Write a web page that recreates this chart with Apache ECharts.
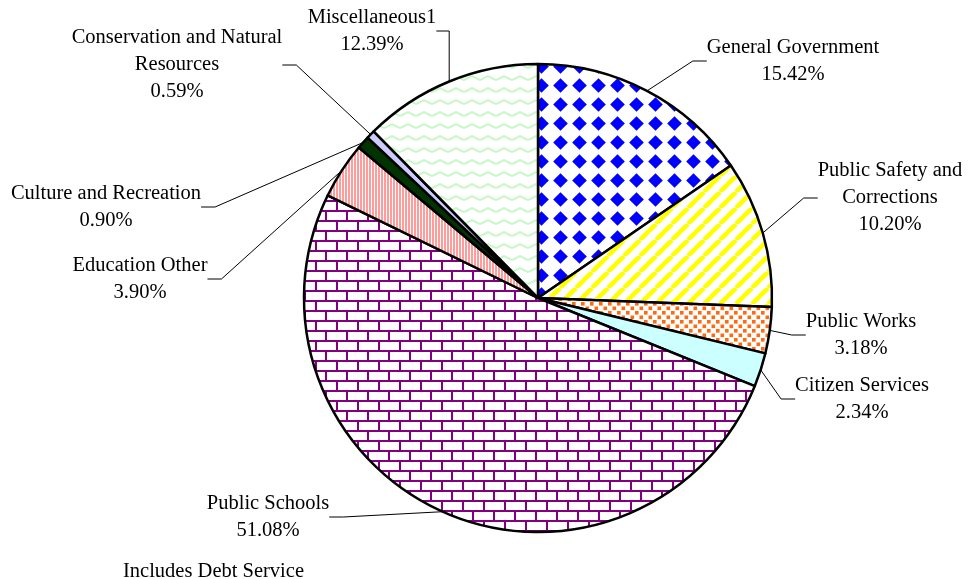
<!DOCTYPE html>
<html>
<head>
<meta charset="utf-8">
<script src="https://cdn.jsdelivr.net/npm/echarts@6/dist/echarts.min.js"></script>
<style>
    html, body { margin: 0; padding: 0; background: #fff; }
    #container { width: 968px; height: 579px; }
</style>
</head>
<body>
<div id="container"></div>
<script>
var categories = ['General Government', 'Public Safety and\nCorrections', 'Public Works', 'Citizen Services',
    'Public Schools', 'Education Other', 'Culture and Recreation', 'Conservation and Natural\nResources', 'Miscellaneous1'];
var shares = [15.42, 10.20, 3.18, 2.34, 51.08, 3.90, 0.90, 0.59, 12.39];
var footnote = 'Includes Debt Service';

(function container() {
    var dom = document.getElementById('container');
    var chart = echarts.init(dom);

    // small canvas tiles used as fill patterns
    function tile(w, h, draw) {
        var c = document.createElement('canvas');
        c.width = w;
        c.height = h;
        var ctx = c.getContext('2d');
        ctx.fillStyle = '#fff';
        ctx.fillRect(0, 0, w, h);
        draw(ctx, w, h);
        return { image: c, repeat: 'repeat' };
    }

    var fills = [
        tile(19, 19, function (ctx) { // blue diamonds
            ctx.fillStyle = '#0000ff';
            ctx.beginPath();
            ctx.moveTo(9.5, 2.2); ctx.lineTo(16.8, 9.5); ctx.lineTo(9.5, 16.8); ctx.lineTo(2.2, 9.5);
            ctx.closePath();
            ctx.fill();
        }),
        tile(16, 16, function (ctx) { // yellow diagonal stripes
            ctx.strokeStyle = '#ffff00';
            ctx.lineWidth = 4.5;
            for (var k = -16; k <= 16; k += 16) {
                ctx.beginPath();
                ctx.moveTo(k, 16); ctx.lineTo(k + 16, 0);
                ctx.stroke();
            }
        }),
        tile(9, 9, function (ctx) { // orange dots
            ctx.fillStyle = '#ff6a10';
            ctx.fillRect(0.5, 0.5, 3.6, 3.6);
            ctx.fillRect(5, 5, 3.6, 3.6);
        }),
        tile(4, 4, function (ctx) {
            ctx.fillStyle = '#ccffff';
            ctx.fillRect(0, 0, 4, 4);
        }),
        tile(21, 20, function (ctx) { // purple bricks
            ctx.fillStyle = '#800080';
            ctx.fillRect(0, 0, 21, 2);
            ctx.fillRect(0, 10, 21, 2);
            ctx.fillRect(0, 0, 2, 10);
            ctx.fillRect(10, 10, 2, 10);
        }),
        tile(3, 3, function (ctx) { // salmon vertical stripes
            ctx.fillStyle = '#ff9c9c';
            ctx.fillRect(0, 0, 2, 3);
        }),
        tile(4, 4, function (ctx) {
            ctx.fillStyle = '#003300';
            ctx.fillRect(0, 0, 4, 4);
        }),
        tile(4, 4, function (ctx) {
            ctx.fillStyle = '#ccccff';
            ctx.fillRect(0, 0, 4, 4);
        }),
        tile(16, 12, function (ctx) { // light green zigzag
            ctx.strokeStyle = '#c6f7c6';
            ctx.lineWidth = 2;
            ctx.beginPath();
            ctx.moveTo(0, 8); ctx.lineTo(8, 4); ctx.lineTo(16, 8);
            ctx.stroke();
        })
    ];

    // label block centres (x, y)
    var labelPos = [[793, 61], [890, 198], [861, 335], [862, 399], [268, 517],
        [140, 279], [106, 207], [177, 65], [372, 31]];

    var data = categories.map(function (name, i) {
        return {
            name: name,
            value: shares[i],
            itemStyle: { color: fills[i] }
        };
    });

    var font = "'Liberation Serif', 'Times New Roman', serif";

    var option = {
        backgroundColor: '#fff',
        animation: false,
        title: {
            text: footnote,
            left: 118,
            top: 556,
            textStyle: { fontFamily: font, fontSize: 20.5, fontWeight: 'normal', color: '#000' }
        },
        series: [{
            type: 'pie',
            center: [538, 298],
            radius: 234,
            startAngle: 90,
            clockwise: true,
            itemStyle: {
                borderColor: '#000',
                borderWidth: 2.5
            },
            label: {
                show: true,
                fontFamily: font,
                fontSize: 20.5,
                lineHeight: 27,
                color: '#000',
                align: 'center',
                formatter: function (p) {
                    return p.name + '\n' + p.value.toFixed(2) + '%';
                }
            },
            labelLine: {
                show: true,
                length: 20,
                length2: 14,
                lineStyle: { color: '#000', width: 1 }
            },
            labelLayout: function (params) {
                var pos = labelPos[params.dataIndex];
                return {
                    x: pos[0],
                    y: pos[1],
                    align: 'center',
                    verticalAlign: 'middle'
                };
            },
            emphasis: { disabled: true },
            data: data
        }]
    };

    if (option && typeof option === 'object') {
        chart.setOption(option, true);
    }
})();
</script>
</body>
</html>
